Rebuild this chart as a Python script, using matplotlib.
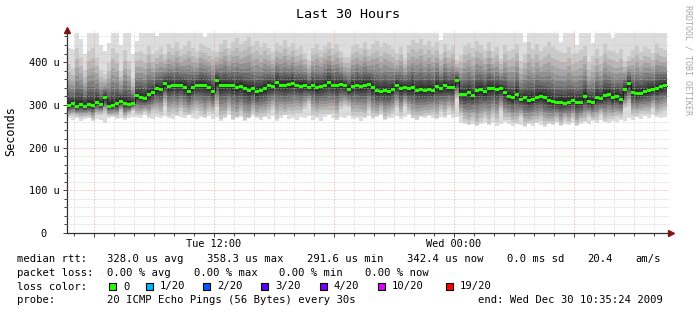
import numpy as np
import matplotlib
matplotlib.use("Agg")
import matplotlib.pyplot as plt
from matplotlib.patches import Rectangle

plt.rcParams["font.family"] = ["DejaVu Sans Mono", "DejaVu Sans"]

# time axis in hours since Tue 2009-12-29 00:00, one column = 12 minutes
t_start = 4.65
t_step = 0.2
t_end = 34.75

# median rtt per column (microseconds)
median_rtt = [
    299, 302, 297, 301, 296, 300, 299, 306, 300, 316,
    297, 298, 302, 308, 303, 301, 304, 321, 318, 314,
    323, 328, 337, 335, 350, 343, 345, 344, 346, 341,
    332, 340, 345, 346, 344, 340, 331, 356, 344, 346,
    345, 344, 340, 343, 338, 333, 337, 330, 334, 338,
    344, 343, 352, 346, 345, 347, 350, 346, 343, 346,
    341, 345, 340, 343, 346, 352, 346, 345, 347, 344,
    336, 343, 345, 343, 346, 348, 340, 333, 332, 334,
    331, 336, 345, 338, 340, 337, 341, 334, 335, 333,
    336, 334, 343, 339, 345, 340, 341, 356, 325, 324,
    328, 322, 333, 336, 330, 339, 338, 336, 338, 329,
    319, 316, 325, 313, 316, 310, 313, 318, 320, 316,
    310, 307, 305, 306, 304, 306, 309, 305, 306, 319,
    307, 305, 317, 314, 322, 325, 316, 319, 313, 336,
    350, 328, 326, 327, 330, 334, 336, 339, 342, 344,
]

# fastest ping per column (bottom of the smoke)
ping_low = [
    268, 265, 270, 263, 266, 269, 262, 267, 265, 258,
    268, 271, 266, 270, 264, 268, 272, 272, 268, 275,
    270, 266, 272, 269, 274, 270, 267, 273, 271, 268,
    275, 270, 266, 272, 268, 274, 266, 271, 262, 270,
    275, 265, 269, 272, 263, 268, 274, 270, 265, 271,
    267, 273, 262, 269, 275, 266, 270, 264, 272, 268,
    274, 265, 270, 263, 271, 276, 268, 265, 272, 269,
    274, 266, 270, 262, 268, 273, 267, 271, 275, 264,
    270, 268, 273, 266, 271, 277, 268, 265, 272, 269,
    274, 270, 266, 272, 268, 275, 270, 272, 258, 255,
    252, 256, 250, 254, 258, 253, 257, 251, 255, 259,
    254, 250, 256, 252, 248, 255, 251, 257, 253, 249,
    255, 252, 258, 250, 256, 253, 257, 251, 254, 259,
    256, 262, 258, 264, 260, 257, 263, 259, 265, 261,
    268, 265, 271, 267, 273, 269, 275, 271, 270, 272,
]

# slowest ping per column (top of the smoke, graph clips near 468)
ping_high = [
    432, 430, 468, 455, 420, 468, 468, 468, 440, 425,
    445, 468, 468, 440, 468, 468, 420, 450, 468, 468,
    468, 468, 462, 468, 468, 468, 468, 468, 468, 468,
    468, 468, 468, 468, 458, 468, 468, 468, 468, 468,
    468, 468, 468, 468, 468, 468, 468, 468, 468, 468,
    468, 468, 468, 468, 468, 468, 468, 468, 468, 468,
    468, 468, 468, 468, 468, 468, 468, 468, 468, 468,
    468, 468, 468, 468, 468, 468, 468, 468, 468, 468,
    468, 468, 468, 468, 468, 468, 468, 468, 468, 468,
    468, 468, 468, 451, 468, 468, 468, 468, 468, 468,
    468, 468, 468, 468, 468, 468, 468, 468, 468, 468,
    468, 468, 468, 468, 446, 468, 468, 468, 468, 468,
    468, 468, 468, 448, 468, 468, 468, 440, 468, 468,
    468, 444, 468, 468, 468, 468, 456, 468, 468, 468,
    468, 468, 468, 468, 468, 468, 468, 468, 468, 468,
]

# how widely the inner pings scatter in each column
spread = [
    1.0, 0.9, 1.1, 1.0, 0.95, 1.05, 1.1, 0.9, 0.8, 0.7,
    0.95, 1.1, 1.0, 0.75, 1.05, 0.85, 0.7, 1.1, 1.0, 0.95,
    1.1, 0.9, 1.0, 1.05, 0.8, 1.1, 1.0, 1.15, 0.95, 1.05,
    1.2, 1.0, 0.9, 1.1, 1.15, 1.0, 0.95, 0.85, 1.1, 1.2,
    1.0, 1.15, 1.25, 1.1, 1.2, 1.3, 1.1, 1.2, 1.05, 1.15,
    1.0, 0.9, 1.1, 1.05, 1.2, 1.0, 1.1, 0.95, 1.05, 0.85,
    0.7, 1.0, 1.1, 0.95, 1.05, 1.15, 1.0, 1.1, 0.9, 0.75,
    0.8, 1.05, 1.1, 1.0, 1.15, 0.95, 1.1, 1.2, 1.05, 1.15,
    1.1, 1.0, 0.85, 1.05, 0.75, 1.1, 1.2, 1.15, 1.25, 1.1,
    1.2, 1.05, 1.15, 1.0, 1.1, 0.95, 1.05, 0.6, 0.9, 1.1,
    1.15, 1.05, 1.2, 1.1, 1.0, 1.15, 0.95, 1.05, 0.75, 1.1,
    1.0, 1.05, 1.15, 0.8, 1.1, 1.2, 1.05, 1.15, 1.0, 1.1,
    1.2, 1.1, 1.05, 1.15, 1.0, 1.1, 0.95, 1.2, 1.05, 1.1,
    0.8, 1.1, 1.05, 0.9, 1.15, 1.0, 1.1, 0.95, 1.05, 0.7,
    0.75, 1.0, 1.1, 0.95, 1.05, 1.0, 0.9, 1.1, 1.0, 0.95,
]

# where sorted pings sit between the median and the outer pings
upper_frac = [1.0, 0.72, 0.58, 0.47, 0.38, 0.30, 0.23, 0.17, 0.12, 0.07]
lower_frac = [1.0, 0.85, 0.74, 0.64, 0.55, 0.46, 0.37, 0.28, 0.20, 0.12]
smoke_grays = ["#dddddd", "#cacaca", "#b7b7b7", "#a4a4a4", "#919191",
               "#7e7e7e", "#6b6b6b", "#585858", "#454545", "#323232"]

y_ticks = [0, 100, 200, 300, 400]
y_labels = ["0  ", "100 u", "200 u", "300 u", "400 u"]
x_ticks = [6, 12, 18, 24, 30]
x_labels = ["", "Tue 12:00", "", "Wed 00:00", ""]

rtt_stats = ["328.0 us avg", "358.3 us max", "291.6 us min", "342.4 us now", "0.0 ms sd", "20.4", "am/s"]
loss_stats = ["0.00 % avg", "0.00 % max", "0.00 % min", "0.00 % now"]
loss_labels = ["0", "1/20", "2/20", "3/20", "4/20", "10/20", "19/20"]
loss_colors = ["#26ff00", "#00b8ff", "#0059ff", "#5e00ff", "#7e00ff", "#dd00ff", "#ff0000"]
probe_text = "20 ICMP Echo Pings (56 Bytes) every 30s"
end_text = "end: Wed Dec 30 10:35:24 2009"

W, H = 697, 316
fig = plt.figure(figsize=(W / 100, H / 100), dpi=100)
ax = fig.add_axes([67 / W, 1 - 233 / H, 602 / W, 203 / H])

med = np.array(median_rtt, float)
lo = np.array(ping_low, float)
hi = np.array(ping_high, float)
sp = np.array(spread, float)
t = t_start + t_step * np.arange(len(med))
te = np.append(t, t[-1] + t_step)


def ext(a):
    return np.append(a, a[-1])


for k, gray in enumerate(smoke_grays):
    f = 1.0 if k == 0 else np.minimum(sp * upper_frac[k], 0.97)
    g = 1.0 if k == 0 else np.minimum(sp * lower_frac[k], 0.97)
    up = med + f * (hi - med)
    dn = med - g * (med - lo)
    ax.fill_between(te, ext(dn), ext(up), step="post", color=gray, lw=0, zorder=1)

ax.step(te, ext(med), where="post", color="#202020", lw=0.8, zorder=3)
ax.bar(t, 7, bottom=med - 3.5, width=t_step, align="edge", color="#26ff00", lw=0, zorder=4)

ax.set_xlim(t_start, t_end)
ax.set_ylim(0, 475)
ax.set_xticks(x_ticks, x_labels)
ax.set_xticks(np.arange(5, 35), minor=True)
ax.set_yticks(y_ticks, y_labels)
ax.set_yticks(np.arange(0, 475, 20), minor=True)
ax.set_axisbelow(False)
ax.grid(which="minor", color="#c4c4c4", linestyle=(0, (1, 2)), lw=0.72, alpha=0.85)
ax.grid(which="major", color="#ee9090", linestyle=(0, (1, 2)), lw=0.72, alpha=0.85)
ax.tick_params(which="both", direction="out", color="#404040", labelsize=7.4, width=0.7)
ax.tick_params(which="major", length=3)
ax.tick_params(which="minor", length=2)
ax.tick_params(axis="y", pad=2.5)
ax.tick_params(axis="x", pad=1)
for s in ["top", "right"]:
    ax.spines[s].set_visible(False)
for s in ["left", "bottom"]:
    ax.spines[s].set_color("#303030")
    ax.spines[s].set_linewidth(0.9)
ax.plot([1.0, 1.004], [0, 0], transform=ax.transAxes, color="#303030", lw=0.9, clip_on=False)
ax.plot([1.004], [0], marker=">", ms=4, color="#8b1010", transform=ax.transAxes, clip_on=False)
ax.plot([0], [1.0], marker="^", ms=4, color="#8b1010", transform=ax.transAxes, clip_on=False)

fig.text(10.5 / W, 1 - 131.5 / H, "Seconds", rotation=90, ha="center", va="center", fontsize=8.5)
fig.text(348 / W, 1 - 18.5 / H, "Last 30 Hours", ha="center", va="baseline", fontsize=9.6)
fig.text(688 / W, 1 - 5 / H, "RRDTOOL / TOBI OETIKER", rotation=270, ha="center", va="top",
         fontsize=6, color="#a8a8a8")


def legend_text(x, y, s):
    fig.text(x / W, 1 - y / H, s, ha="left", va="baseline", fontsize=7.6)


legend_text(17, 262, "median rtt:")
for x, s in zip([107, 207, 307, 407, 507, 587, 635], rtt_stats):
    legend_text(x, 262, s)

legend_text(17, 276, "packet loss:")
for x, s in zip([107, 194, 279, 365], loss_stats):
    legend_text(x, 276, s)

legend_text(17, 289.5, "loss color:")
for x, s, c in zip([109, 146, 203, 261, 320, 378, 446], loss_labels, loss_colors):
    fig.patches.append(Rectangle((x / W, 1 - 290 / H), 7 / W, 7 / H, transform=fig.transFigure,
                                 facecolor=c, edgecolor="black", lw=0.8))
    legend_text(x + 14, 289.5, s)

legend_text(17, 303, "probe:")
legend_text(107, 303, probe_text)
legend_text(478, 303, end_text)

fig.savefig("out.png", dpi=100)
